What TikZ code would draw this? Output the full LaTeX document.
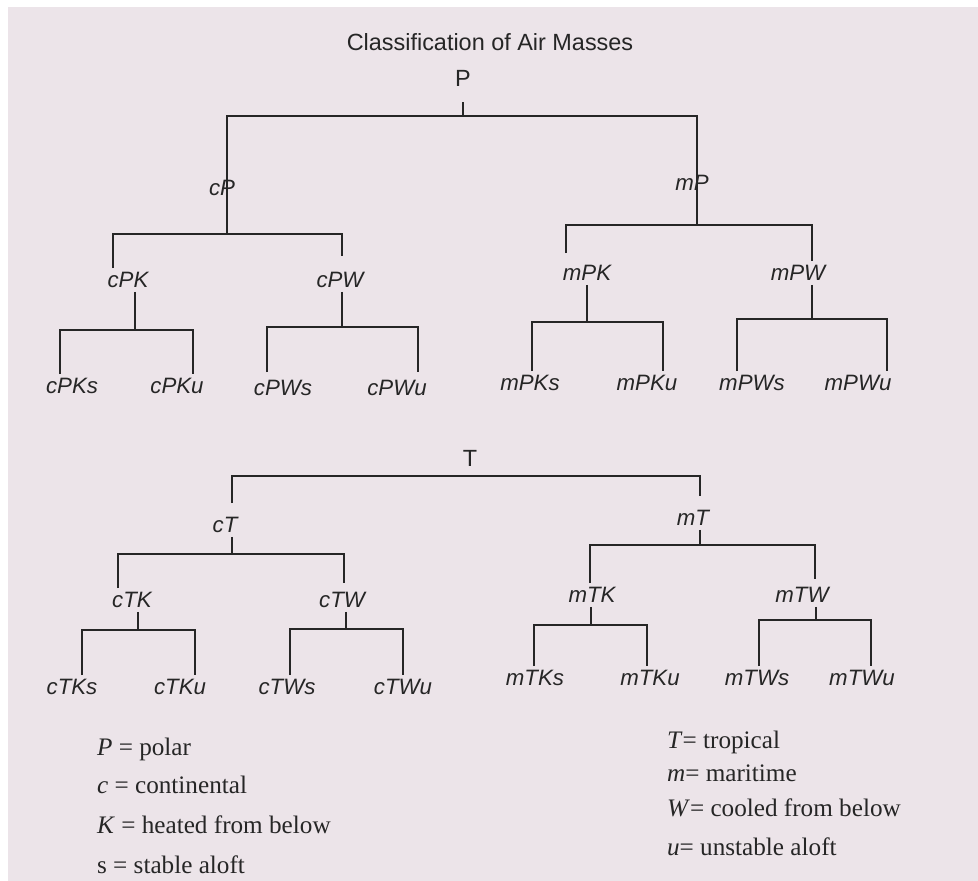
\documentclass[tikz,border=0pt]{standalone}
\usepackage{fontspec}
\setmainfont{Liberation Serif}
\setsansfont{Liberation Sans}
\definecolor{paper}{HTML}{ECE4E9}
\definecolor{ink}{HTML}{262626}

\begin{document}
\begin{tikzpicture}[x=0.03cm,y=-0.03cm,
	mass/.style={font=\sffamily\itshape\fontsize{19}{21}\selectfont,text=ink},
	root/.style={font=\sffamily\fontsize{20}{22}\selectfont,text=ink},
	key/.style={anchor=base west,font=\fontsize{21.5}{24}\selectfont,text=ink},
	branch/.style={draw=black!85,line width=2pt}]
\useasboundingbox (0,0) rectangle (978,881);
\fill[white] (0,0) rectangle (978,881);
\fill[paper] (8,7) rectangle (978,881);

\node[root] (title) at (490,42) {Classification of Air Masses};

% polar air masses
\node[root] (P) at (463,78) {P};
\node[mass] (cP) at (222,188) {cP};
\node[mass] (mP) at (692,183) {mP};
\node[mass] (cPK) at (128,280) {cPK};
\node[mass] (cPW) at (340,280) {cPW};
\node[mass] (mPK) at (587,273) {mPK};
\node[mass] (mPW) at (798,273) {mPW};
\node[mass] (cPKs) at (72,386) {cPKs};
\node[mass] (cPKu) at (177,386) {cPKu};
\node[mass] (cPWs) at (283,388) {cPWs};
\node[mass] (cPWu) at (397,388) {cPWu};
\node[mass] (mPKs) at (530,383) {mPKs};
\node[mass] (mPKu) at (647,383) {mPKu};
\node[mass] (mPWs) at (752,383) {mPWs};
\node[mass] (mPWu) at (858,383) {mPWu};

\draw[branch] (P.south) ++(0,12) -- ++(0,14) coordinate (Pbar);
\path (cP.south) ++(5,34) coordinate (cPbar);
\path (mP.south) ++(5,30) coordinate (mPbar);
\draw[branch] (cPbar) |- (Pbar) -| (mPbar);
\draw[branch] ([shift={(-15,0)}]cPK.north) |- (cPbar) -| ([shift={(2,-12)}]cPW.north);
\draw[branch] ([shift={(-21,-8)}]mPK.north) |- (mPbar) -| ([shift={(14,0)}]mPW.north);

\draw[branch] (cPK.south) ++(7,0) -- ++(0,38) coordinate (cPKbar);
\draw[branch] ([shift={(-12,0)}]cPKs.north) |- (cPKbar) -| ([shift={(16,0)}]cPKu.north);
\draw[branch] (cPW.south) ++(2,0) -- ++(0,35) coordinate (cPWbar);
\draw[branch] ([shift={(-16,-4)}]cPWs.north) |- (cPWbar) -| ([shift={(21,-4)}]cPWu.north);
\draw[branch] (mPK.south) -- ++(0,37) coordinate (mPKbar);
\draw[branch] ([shift={(2,0)}]mPKs.north) |- (mPKbar) -| ([shift={(16,0)}]mPKu.north);
\draw[branch] (mPW.south) ++(14,0) -- ++(0,34) coordinate (mPWbar);
\draw[branch] ([shift={(-15,0)}]mPWs.north) |- (mPWbar) -| ([shift={(29,0)}]mPWu.north);

% tropical air masses
\node[root] (T) at (470,458) {T};
\node[mass] (cT) at (225,525) {cT};
\node[mass] (mT) at (693,518) {mT};
\node[mass] (cTK) at (132,600) {cTK};
\node[mass] (cTW) at (342,600) {cTW};
\node[mass] (mTK) at (592,595) {mTK};
\node[mass] (mTW) at (802,595) {mTW};
\node[mass] (cTKs) at (72,687) {cTKs};
\node[mass] (cTKu) at (180,687) {cTKu};
\node[mass] (cTWs) at (287,687) {cTWs};
\node[mass] (cTWu) at (403,687) {cTWu};
\node[mass] (mTKs) at (535,678) {mTKs};
\node[mass] (mTKu) at (650,678) {mTKu};
\node[mass] (mTWs) at (757,678) {mTWs};
\node[mass] (mTWu) at (862,678) {mTWu};

\path (T.south) ++(0,6) coordinate (Tbar);
\draw[branch] ([shift={(7,-10)}]cT.north) |- (Tbar) -| ([shift={(7,-10)}]mT.north);

\draw[branch] (cT.south) ++(7,0) -- ++(0,17) coordinate (cTbar);
\draw[branch] ([shift={(-14,0)}]cTK.north) |- (cTbar) -| ([shift={(2,-5)}]cTW.north);
\draw[branch] (mT.south) ++(7,0) -- ++(0,15) coordinate (mTbar);
\draw[branch] ([shift={(-2,0)}]mTK.north) |- (mTbar) -| ([shift={(13,-4)}]mTW.north);

\draw[branch] (cTK.south) ++(6,0) -- ++(0,18) coordinate (cTKbar);
\draw[branch] ([shift={(10,0)}]cTKs.north) |- (cTKbar) -| ([shift={(15,0)}]cTKu.north);
\draw[branch] (cTW.south) ++(4,0) -- ++(0,17) coordinate (cTWbar);
\draw[branch] ([shift={(3,0)}]cTWs.north) |- (cTWbar) -| (cTWu.north);
\draw[branch] (mTK.south) ++(-1,0) -- ++(0,18) coordinate (mTKbar);
\draw[branch] ([shift={(-1,0)}]mTKs.north) |- (mTKbar) -| ([shift={(-3,0)}]mTKu.north);
\draw[branch] (mTW.south) ++(14,0) -- ++(0,13) coordinate (mTWbar);
\draw[branch] ([shift={(2,0)}]mTWs.north) |- (mTWbar) -| ([shift={(9,0)}]mTWu.north);

% key
\node[key] (keyP) at (93,755) {\textit{P} = polar};
\node[key] (keyc) at (93,793) {\textit{c} = continental};
\node[key] (keyK) at (93,833) {\textit{K} = heated from below};
\node[key] (keys) at (93,873) {s = stable aloft};
\node[key] (keyT) at (663,748) {\textit{T}= tropical};
\node[key] (keym) at (663,781) {\textit{m}= maritime};
\node[key] (keyW) at (663,816) {\textit{W}= cooled from below};
\node[key] (keyu) at (663,855) {\textit{u}= unstable aloft};
\end{tikzpicture}
\end{document}
